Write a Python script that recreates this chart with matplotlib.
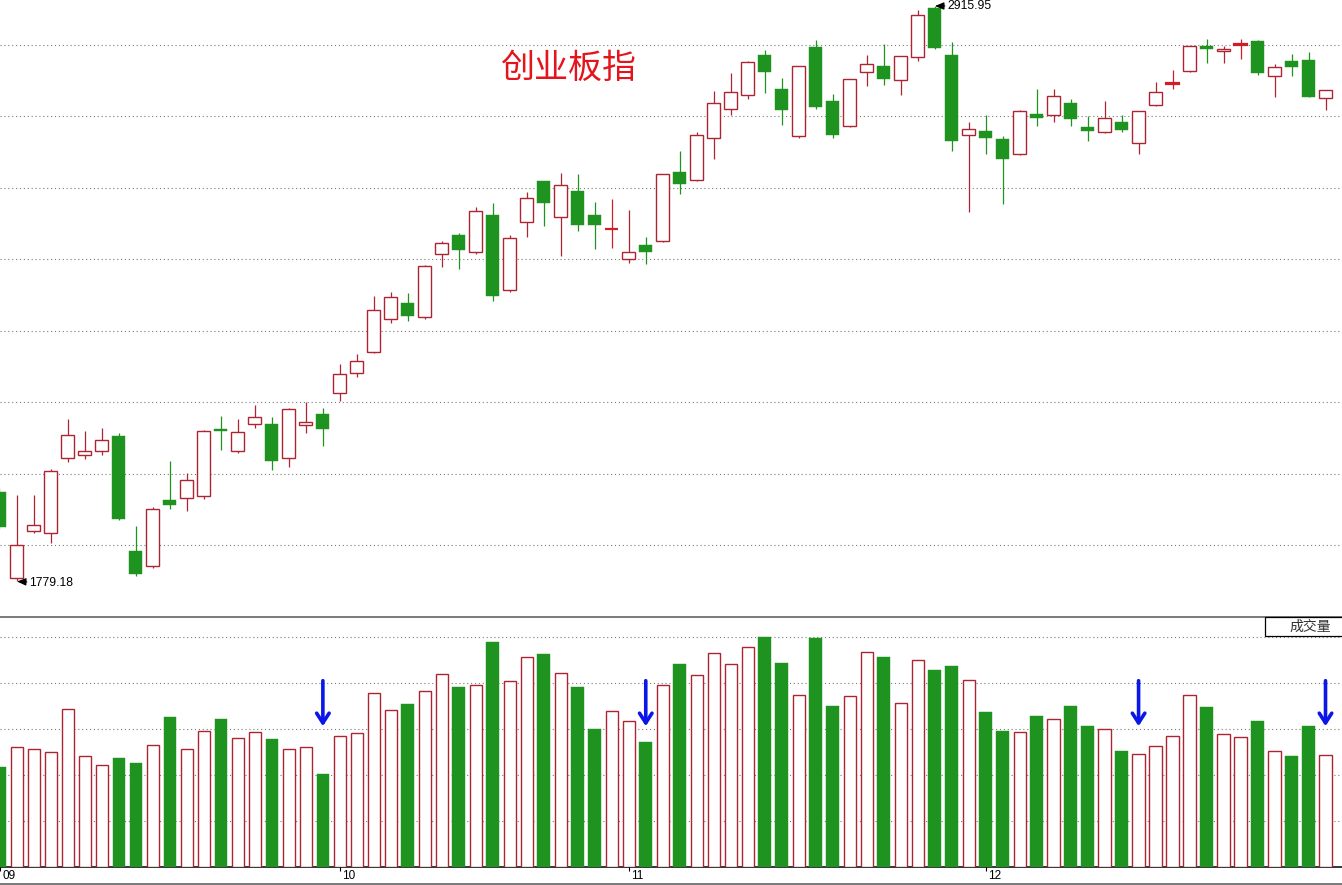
import matplotlib
matplotlib.use('Agg')
import numpy as np
import matplotlib.pyplot as plt
from matplotlib.patches import Rectangle
from matplotlib.lines import Line2D
import matplotlib.transforms as mtransforms

# ---------------- data ----------------
opens = [1955.9, 1786.1, 1879.5, 1874.4, 2022.5, 2028.5, 2037.5, 2066.6, 1839.4, 1810.4,
         1940.2, 1944.7, 1948.6, 2080.4, 2037.5, 2089.7, 2090.3, 2022.5, 2087.7, 2110.0,
         2152.1, 2190.4, 2233.1, 2297.1, 2329.3, 2301.0, 2425.5, 2463.6, 2429.4, 2503.1,
         2354.4, 2488.7, 2570.3, 2498.6, 2551.1, 2503.1, 2475.4, 2415.6, 2443.9, 2451.2,
         2587.5, 2571.7, 2654.6, 2711.9, 2739.6, 2819.2, 2751.4, 2658.6, 2835.0, 2728.3,
         2679.5, 2785.0, 2796.8, 2769.2, 2814.6, 2911.4, 2819.2, 2660.5, 2669.0, 2653.2,
         2623.0, 2702.6, 2700.1, 2724.3, 2676.9, 2666.5, 2686.8, 2644.7, 2719.8, 2762.4,
         2787.0, 2836.3, 2827.1, 2839.4, 2846.8, 2777.1, 2807.3, 2809.3, 2733.6]
highs = [1963.9, 1950.0, 1950.0, 2000.8, 2100.2, 2076.5, 2082.4, 2071.9, 1888.8, 1925.7,
         2017.8, 1993.5, 2078.4, 2106.7, 2100.2, 2127.8, 2103.5, 2121.9, 2133.7, 2121.3,
         2208.8, 2228.5, 2343.1, 2351.6, 2349.6, 2403.8, 2451.8, 2467.0, 2519.5, 2527.4,
         2463.6, 2549.1, 2571.0, 2586.7, 2584.1, 2529.4, 2534.7, 2513.0, 2459.1, 2584.5,
         2629.5, 2666.5, 2748.6, 2783.0, 2807.3, 2829.0, 2773.1, 2797.5, 2848.8, 2741.5,
         2771.8, 2819.2, 2840.9, 2817.3, 2908.1, 2915.95, 2844.3, 2686.2, 2700.1, 2659.2,
         2710.5, 2751.4, 2752.0, 2732.3, 2698.7, 2728.9, 2700.1, 2709.5, 2765.8, 2789.5,
         2837.0, 2850.8, 2837.5, 2850.8, 2848.8, 2801.4, 2821.1, 2825.7, 2751.0]
lows = [1882.9, 1779.18, 1875.6, 1855.8, 2015.8, 2021.7, 2028.5, 1901.0, 1790.6, 1806.4,
        1921.8, 1919.0, 1942.1, 2038.9, 2033.6, 2083.0, 1999.4, 2005.9, 2073.1, 2047.4,
        2136.3, 2183.7, 2231.1, 2290.4, 2293.7, 2297.1, 2401.0, 2396.4, 2426.7, 2333.2,
        2352.0, 2459.1, 2481.4, 2422.1, 2472.1, 2436.0, 2438.5, 2408.9, 2406.9, 2450.2,
        2544.0, 2570.5, 2613.1, 2701.2, 2731.7, 2744.7, 2681.5, 2655.8, 2713.1, 2655.8,
        2677.5, 2757.9, 2759.9, 2740.2, 2807.9, 2830.4, 2630.1, 2508.4, 2623.0, 2525.4,
        2622.0, 2678.9, 2687.4, 2679.5, 2649.9, 2664.5, 2667.7, 2623.0, 2718.8, 2751.4,
        2786.0, 2802.8, 2802.8, 2811.9, 2780.2, 2736.8, 2778.3, 2735.8, 2710.5]
closes = [1886.8, 1851.3, 1890.2, 1996.8, 2068.5, 2036.4, 2058.1, 1903.2, 1794.6, 1921.8,
          1930.9, 1979.1, 2076.5, 2077.0, 2073.9, 2104.1, 2017.2, 2119.3, 2095.2, 2080.4,
          2189.0, 2214.7, 2314.9, 2341.1, 2304.2, 2402.4, 2447.2, 2433.4, 2511.0, 2343.7,
          2457.7, 2536.1, 2527.4, 2562.4, 2484.0, 2484.0, 2476.3, 2429.4, 2429.4, 2583.5,
          2564.9, 2661.1, 2723.8, 2745.5, 2805.3, 2785.0, 2711.1, 2796.8, 2717.0, 2661.7,
          2771.2, 2800.8, 2772.3, 2816.6, 2897.6, 2833.6, 2649.9, 2672.4, 2655.8, 2614.3,
          2708.5, 2694.1, 2737.6, 2692.2, 2668.4, 2694.7, 2671.6, 2708.5, 2746.1, 2763.3,
          2836.3, 2831.6, 2831.0, 2840.3, 2784.2, 2794.9, 2796.1, 2736.8, 2750.0]
volumes = [217, 261, 257, 250, 343, 241, 222, 237, 226, 265,
           326, 257, 296, 322, 280, 293, 278, 257, 261, 202,
           285, 291, 378, 341, 354, 383, 420, 391, 396, 489,
           404, 457, 463, 422, 391, 300, 339, 317, 272, 396,
           441, 417, 465, 441, 478, 500, 443, 374, 498, 350,
           372, 467, 457, 357, 450, 428, 437, 407, 337, 296,
           293, 328, 322, 350, 307, 300, 252, 246, 263, 285,
           374, 348, 289, 283, 317, 252, 241, 307, 243]
date_idx = [0, 20, 37, 58]
date_labels = ['09', '10', '11', '12']
arrow_idx = [19, 38, 67, 78]
title = '创业板指'
vol_label = '成交量'

# ---------------- style ----------------
RED = '#ad2432'
RED_DOJI = '#d01e28'
GREEN = '#1f931f'
GRID = '#7a7a7a'
CJK = ['Noto Sans CJK SC', 'DejaVu Sans']
NUM = ['Liberation Sans', 'DejaVu Sans']

W, H = 1342, 885
fig = plt.figure(figsize=(W / 100, H / 100), dpi=100)
fig.patch.set_facecolor('white')

main_bot, vol_top, vol_base = 617, 617, 867
ax = fig.add_axes([0, 1 - main_bot / H, 1, main_bot / H])
vax = fig.add_axes([0, (H - vol_base) / H, 1, (vol_base - vol_top) / H])

n = len(opens)
xlim = (0.5 / 17, (W + 0.5) / 17)
ax.set_xlim(xlim)
vax.set_xlim(xlim)
ymin, ymax = 1709.04, 2927.80
ax.set_ylim(ymin, ymax)
vax.set_ylim(0, 543.5)

for a in (ax, vax):
    a.set_yticks([])
    for s in a.spines.values():
        s.set_visible(False)
ax.set_xticks([])

# grid lines (main)
step = (ymax - ymin) * 71.55 / main_bot
for k in range(1, 9):
    ax.axhline(ymin + k * step, color=GRID, lw=0.8, ls=(0, (1, 2.5)), zorder=0)
# grid lines (volume)
for v in [100, 200, 300, 400, 500]:
    vax.axhline(v, color=GRID, lw=0.8, ls=(0, (1, 2.5)), zorder=0)

vax.spines['top'].set_visible(True)
vax.spines['top'].set_color('#7a7a7a')
vax.spines['top'].set_linewidth(1.4)
vax.spines['bottom'].set_visible(True)
vax.spines['bottom'].set_color('black')
vax.spines['bottom'].set_linewidth(1.1)

# candles
bw = 0.72
for i in range(n):
    o, h, l, c = opens[i], highs[i], lows[i], closes[i]
    if c >= o:
        col = RED_DOJI if abs(c - o) < 2 else RED
        ax.vlines(i, l, h, color=col, lw=0.9, zorder=2)
        ax.add_patch(Rectangle((i - bw / 2, o), bw, c - o, facecolor='white',
                               edgecolor=col, lw=1.0 if abs(c - o) >= 2 else 1.6, zorder=3))
    else:
        ax.vlines(i, l, h, color=GREEN, lw=0.9, zorder=2)
        ax.add_patch(Rectangle((i - 0.375, c), 0.75, o - c, facecolor=GREEN,
                               edgecolor=GREEN, lw=0.3, zorder=3))

# volume bars
for i in range(n):
    if closes[i] >= opens[i]:
        vax.add_patch(Rectangle((i - bw / 2, 0), bw, volumes[i], facecolor='white',
                                edgecolor=RED, lw=1.0, zorder=3))
    else:
        vax.add_patch(Rectangle((i - 0.375, 0), 0.75, volumes[i], facecolor=GREEN,
                                edgecolor=GREEN, lw=0.3, zorder=3))

# extreme annotations
lo_i = int(np.argmin(lows))
hi_i = int(np.argmax(highs))
for idx, val, dy in ((lo_i, lows[lo_i], -1.0), (hi_i, highs[hi_i], 0.0)):
    ax.annotate(f'{val:.2f}', xy=(idx + 0.03, val), xytext=(9, dy), textcoords='offset points',
                ha='left', va='center', fontsize=8.7, family=NUM, color='black',
                arrowprops=dict(arrowstyle='-|>,head_length=0.6,head_width=0.25', color='black',
                                lw=0.9, shrinkA=0, shrinkB=0), zorder=5)

# title
ax.text(568 / W, 1 - 68.5 / main_bot, title, transform=ax.transAxes, ha='center', va='center',
        fontsize=24.5, color='#e4141c', family=CJK, fontweight='medium', zorder=5)

# date ticks / labels
vax.set_xticks(date_idx)
vax.tick_params(axis='x', length=3, width=0.8, color='black', direction='out', labelbottom=False)
trans = mtransforms.blended_transform_factory(vax.transData, fig.transFigure)
trans = mtransforms.offset_copy(trans, fig=fig, x=2.5, y=0, units='dots')
for idx, lab in zip(date_idx, date_labels):
    fig.text(idx, (H - 876) / H, lab, transform=trans, ha='left', va='center',
             fontsize=8.5, family=NUM, color='black')

# bottom border
fig.add_artist(Line2D([0, 1], [1.5 / H, 1.5 / H], color='#7a7a7a', lw=1.4,
                      transform=fig.transFigure))

# volume label box
fig.add_artist(Rectangle((1265 / W, (H - 636) / H), (W - 1265 + 5) / W, 19 / H,
                         facecolor='white', edgecolor='black', lw=0.9,
                         transform=fig.transFigure, zorder=5))
fig.text(1310 / W, (H - 627) / H, vol_label, ha='center', va='center', fontsize=10,
         family=CJK, color='#333333', zorder=6)

# blue arrows
for idx in arrow_idx:
    vax.annotate('', xy=(idx, 306), xytext=(idx, 405),
                 arrowprops=dict(arrowstyle='->,head_length=0.7,head_width=0.45',
                                 color='#0b17e8', lw=2.6, shrinkA=0, shrinkB=0), zorder=6)

fig.savefig('out.png', dpi=100, facecolor='white')
